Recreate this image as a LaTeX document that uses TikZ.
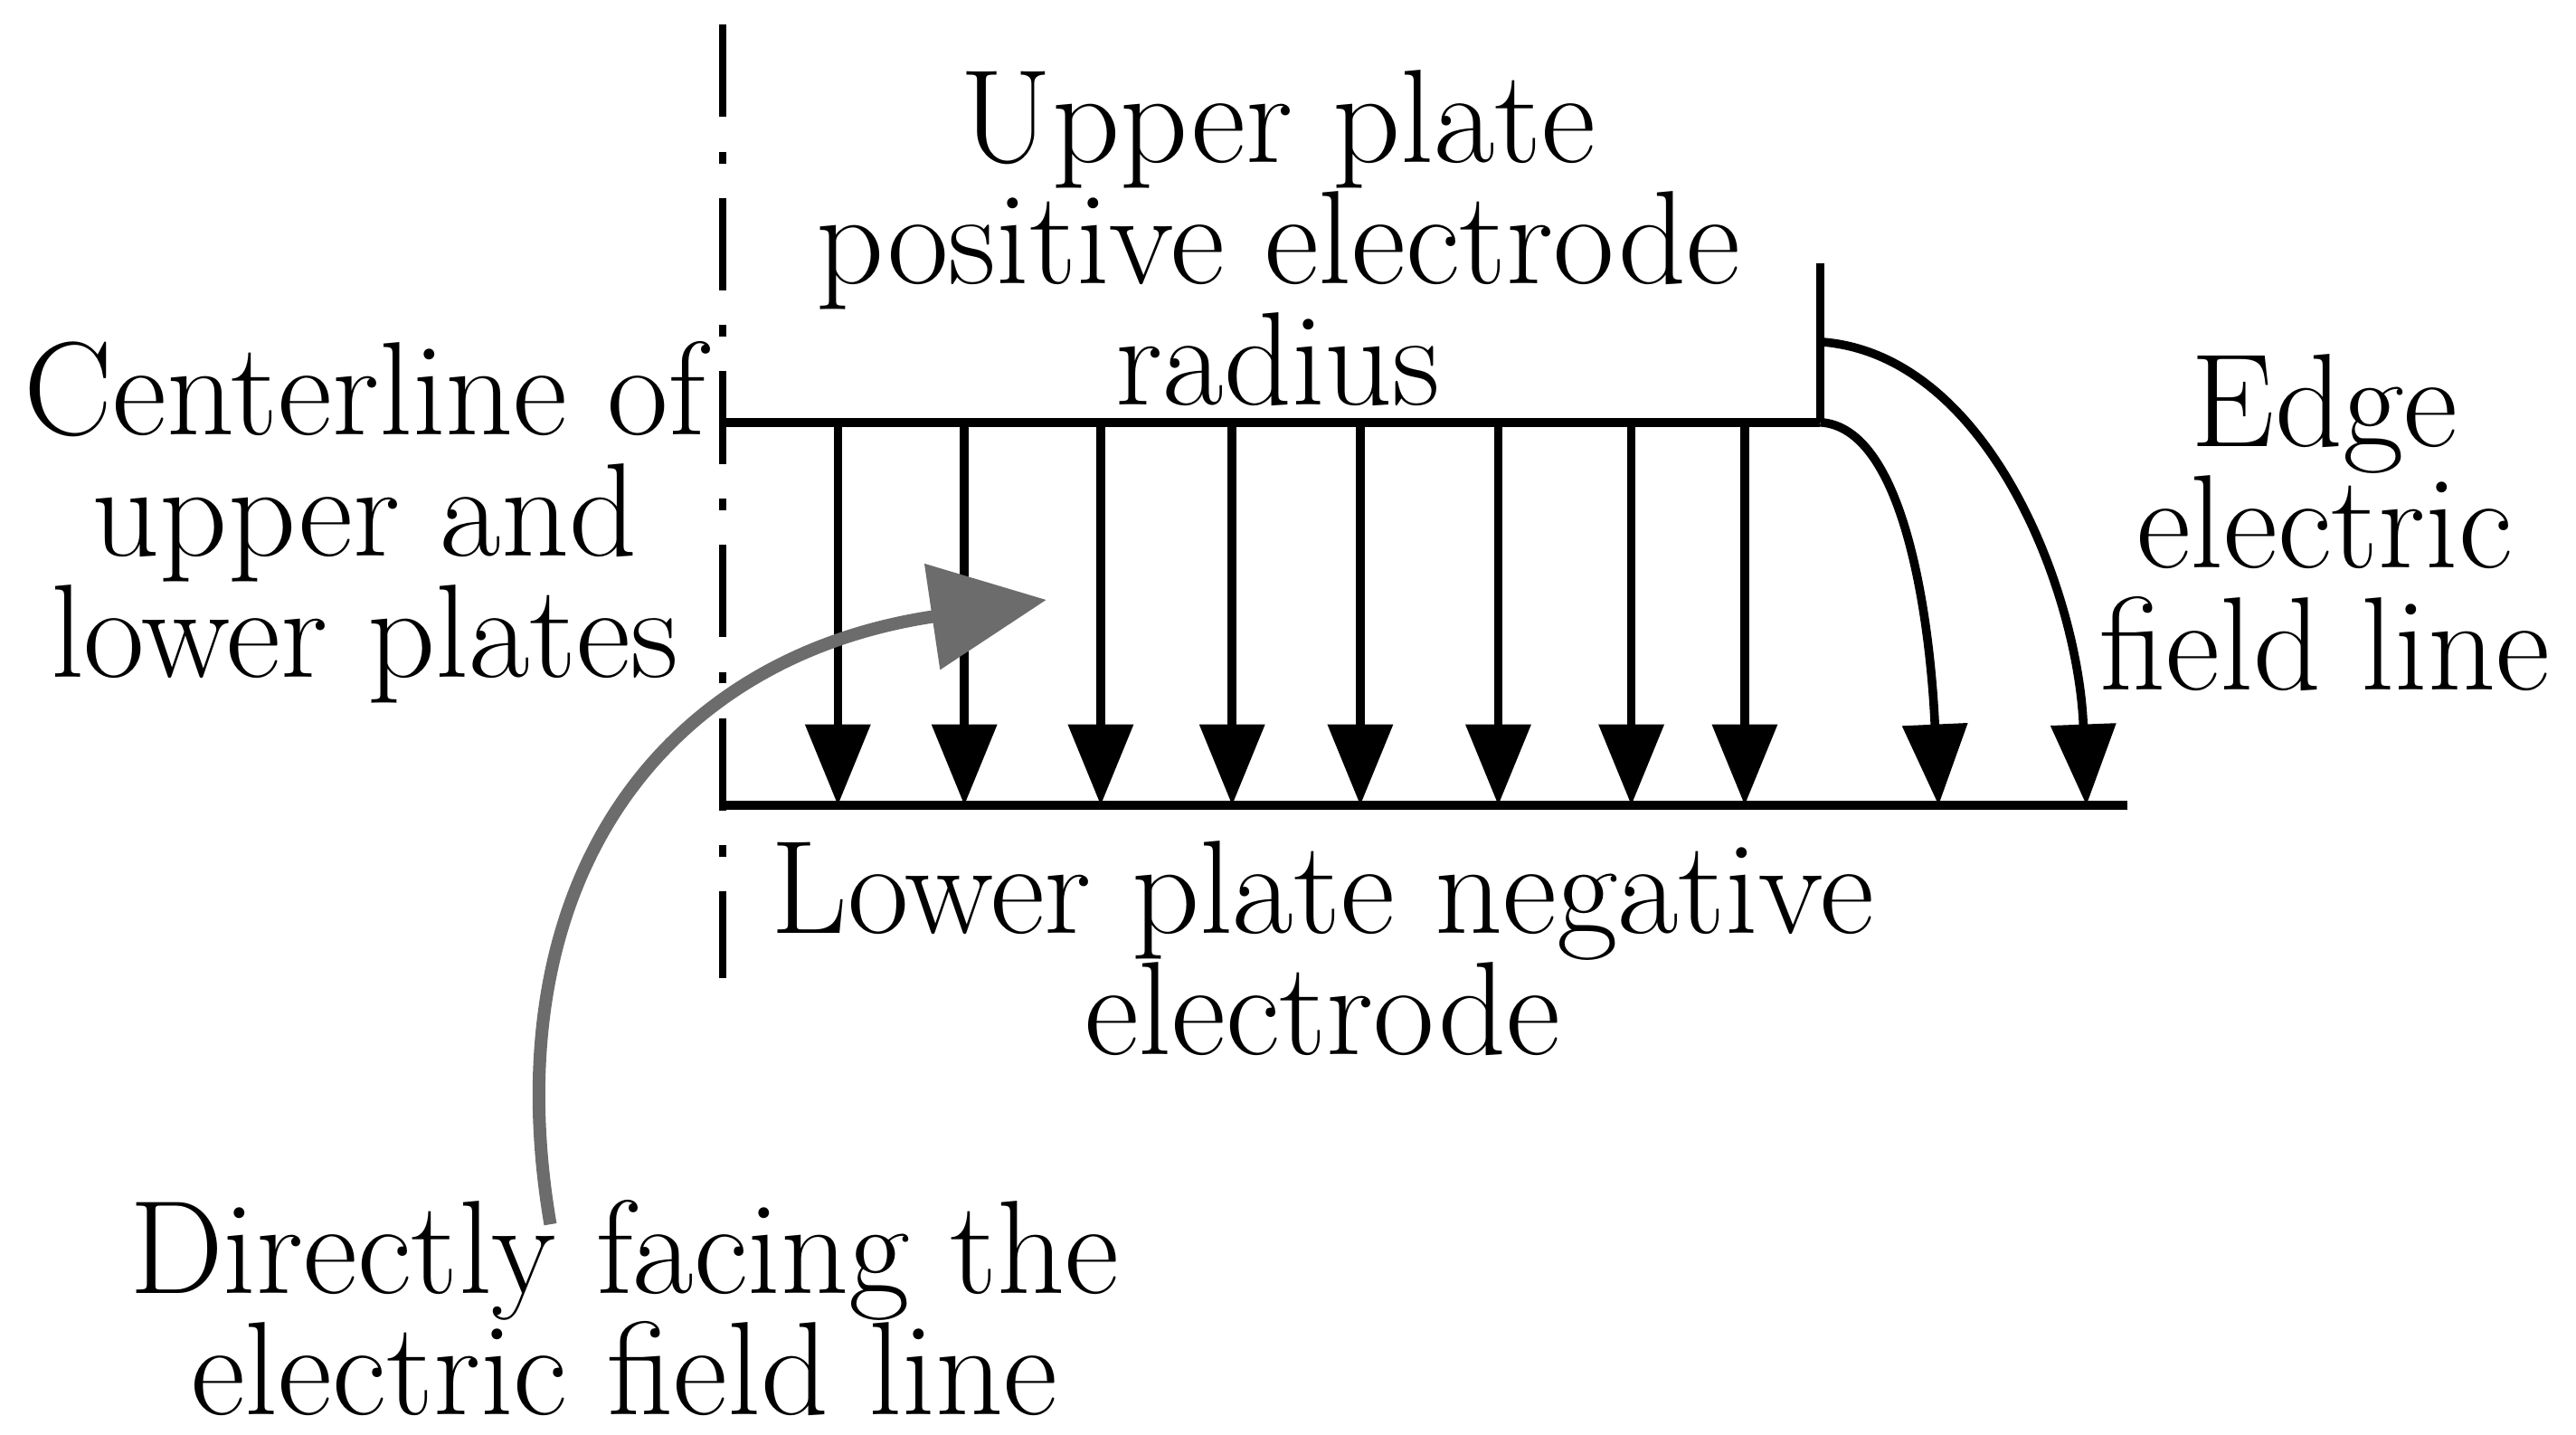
\documentclass[tikz,border=0pt]{standalone}
\usetikzlibrary{arrows.meta}
\begin{document}
\begin{tikzpicture}[x=0.01cm,y=-0.01cm,
  lbl/.style={align=center,font=\fontsize{23}{21}\selectfont,inner sep=0pt},
  ln/.style={line width=1.5pt},
  fa/.style={ln,-{Triangle[length=14pt,width=11pt]}}]
\useasboundingbox (0,0) rectangle (1568,873);
\draw[line width=1.3pt,dash pattern=on 16pt off 6pt on 2pt off 6pt] (440,15) -- (440,595);
\coordinate (ul) at (440,257); \coordinate (ur) at (1108,257);
\coordinate (ll) at (440,490); \coordinate (lr) at (1295,490);
\draw[ln] (ul) -- (ur);
\draw[ln] (1108,160) -- (ur);
\draw[ln] (ll) -- (lr);
\foreach \x in {510,587,670,750,828,912,993,1062}{
  \coordinate (t\x) at (\x,257); \coordinate (b\x) at (\x,490);
  \draw[fa] (t\x) -- (b\x);}
\coordinate (e1) at (1180,490); \coordinate (s2) at (1108,208); \coordinate (e2) at (1270,490);
\draw[fa] (ur) .. controls (1160,260) and (1175,380) .. (e1);
\draw[fa] (s2) .. controls (1210,215) and (1265,360) .. (e2);
\coordinate (g1) at (335,745); \coordinate (g2) at (637,365);
\draw[line width=2.2pt,gray!85!black,-{Triangle[length=20pt,width=18pt]}] (g1) .. controls (300,540) and (400,400) .. (g2);
\node[lbl] (up) at (778,145) {Upper plate\\positive electrode\\radius};
\node[lbl] (cl) at (222,318) {Centerline of\\upper and\\lower plates};
\node[lbl] (ed) at (1415,318) {Edge\\electric\\field line};
\node[lbl] (lo) at (805,577) {Lower plate negative\\electrode};
\node[lbl] (df) at (380,796) {Directly facing the\\electric field line};
\end{tikzpicture}
\end{document}
